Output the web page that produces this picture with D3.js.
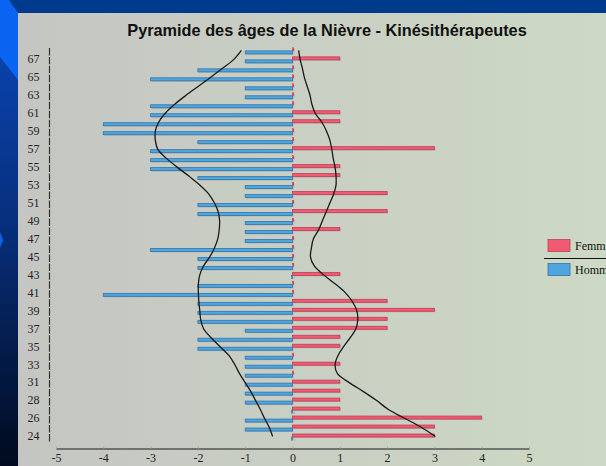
<!DOCTYPE html>
<html>
<head>
<meta charset="utf-8">
<script src="https://cdn.jsdelivr.net/npm/d3@7"></script>
<style>
  body { margin: 0; overflow: hidden; background: #003a8c; }
</style>
</head>
<body>
<svg width="606" height="466"></svg>
<script>
// tranches d'age, de bas en haut (30 absent du graphique d'origine)
const ages = [24, 25, 26, 27, 28, 29, 31, 32, 33, 34, 35, 36, 37, 38, 39, 40, 41, 42, 43, 44, 45, 46,
  47, 48, 49, 50, 51, 52, 53, 54, 55, 56, 57, 58, 59, 60, 61, 62, 63, 64, 65, 66, 67, 68]

const hommes = [0, -1, -1, 0, -1, -1, -1, -1, -1, -1, -2, -2, -1, -2, -2, -2, -4, -2, 0, -2, -2, -3,
  -1, -1, -1, -2, -2, -1, -1, -2, -3, -3, -3, -2, -4, -4, -3, -3, -1, -1, -3, -2, -1, -1]

const femmes = [3, 3, 4, 1, 1, 1, 1, 0, 1, 0, 1, 1, 2, 2, 3, 2, 0, 0, 1, 0, 0, 0,
  0, 1, 0, 2, 0, 2, 0, 1, 1, 0, 3, 0, 0, 1, 1, 0, 0, 0, 0, 0, 1, 0]

// courbes lissees
const courbeHommes = [-0.42, -0.49, -0.59, -0.68, -0.78, -0.88, -1.0, -1.12, -1.22, -1.34, -1.53, -1.72,
  -1.88, -1.94, -1.96, -1.98, -1.99, -1.99, -1.96, -1.88, -1.75, -1.65, -1.58, -1.55, -1.54, -1.57,
  -1.65, -1.77, -1.96, -2.19, -2.44, -2.67, -2.85, -2.9, -2.9, -2.83, -2.69, -2.49, -2.25, -1.99,
  -1.73, -1.48, -1.24, -1.08]

const courbeFemmes = [3.02, 2.73, 2.38, 2.03, 1.78, 1.5, 1.2, 0.95, 0.9, 0.96, 1.08, 1.22, 1.34, 1.38,
  1.36, 1.27, 1.12, 0.9, 0.66, 0.46, 0.38, 0.4, 0.44, 0.55, 0.63, 0.71, 0.79, 0.87, 0.92, 0.92, 0.9,
  0.86, 0.83, 0.79, 0.72, 0.62, 0.48, 0.41, 0.37, 0.31, 0.25, 0.21, 0.16, 0.13]

const xTicks = [-5, -4, -3, -2, -1, 0, 1, 2, 3, 4, 5]
const yLabels = ages.filter((d, i) => i % 2 === 0)
const series = ['Femme', 'Homme']
const couleurs = ['#f05a72', '#4fa5dd']
const bords = ['#c23c55', '#2f75ad']
const titre = 'Pyramide des âges de la Nièvre - Kinésithérapeutes'

let svg = d3.select('svg')
let defs = svg.append('defs')

let gFond = defs.append('linearGradient').attr('id', 'fond')
gFond.append('stop').attr('offset', '0%').attr('stop-color', '#c5c6c3')
gFond.append('stop').attr('offset', '100%').attr('stop-color', '#cdd9c4')

let gBande = defs.append('linearGradient').attr('id', 'bande')
    .attr('x1', 0).attr('y1', 0).attr('x2', 0).attr('y2', 1)
gBande.append('stop').attr('offset', '0%').attr('stop-color', '#0a47b8')
gBande.append('stop').attr('offset', '45%').attr('stop-color', '#07307e')
gBande.append('stop').attr('offset', '100%').attr('stop-color', '#010a1e')

// decor de la diapositive
svg.append('rect').attr('width', 606).attr('height', 466).attr('fill', '#003a8c')
svg.append('rect').attr('y', 13).attr('width', 18).attr('height', 453).attr('fill', 'url(#bande)')
svg.append('polygon').attr('points', '0,0 9,0 18,13 18,80 0,57').attr('fill', '#0b63f2')
svg.append('polygon').attr('points', '0,232 3,240 0,248').attr('fill', '#0b63f2')
svg.append('rect').attr('x', 18).attr('y', 13).attr('width', 588).attr('height', 453)
    .attr('fill', 'url(#fond)')

let x = d3.scaleLinear().domain([-5, 5]).range([56, 529])
let y = d3.scaleBand().domain(ages).range([441, 45.9])
let bw = y.bandwidth()
let cy = d => y(d) + bw / 2

// titre
let t = svg.append('text')
    .attr('x', 327).attr('y', 36)
    .attr('text-anchor', 'middle')
    .attr('font-family', 'Liberation Sans, Arial, sans-serif')
    .attr('font-weight', 'bold')
    .attr('font-size', 16)
    .attr('fill', '#111')
    .text(titre)
let w = t.node().getComputedTextLength()
t.attr('font-size', 16 * 400 / w)

// axe y
let axeY = svg.append('g')
    .attr('transform', 'translate(49,0)')
    .call(d3.axisLeft(y).tickValues(yLabels).tickSize(0).tickSizeOuter(0).tickPadding(9.5))
axeY.select('.domain')
    .attr('stroke', '#333')
    .attr('stroke-width', 1.2)
    .attr('stroke-dasharray', (bw - 1.5) + ',1.5')
axeY.selectAll('text')
    .attr('font-family', 'Liberation Serif, Times New Roman, serif')
    .attr('font-size', 12)
    .attr('fill', '#222')

// axe x
let axeX = svg.append('g')
    .attr('transform', 'translate(0,448.5)')
    .call(d3.axisBottom(x).tickValues(xTicks).tickFormat(d => String(d))
      .tickSize(-2).tickSizeOuter(0).tickPadding(5))
axeX.select('.domain').attr('stroke', '#555').attr('stroke-width', 1.6)
axeX.selectAll('.tick line').attr('stroke', '#aaa')
axeX.selectAll('text')
    .attr('font-family', 'Liberation Serif, Times New Roman, serif')
    .attr('font-size', 12)
    .attr('fill', '#222')

// barres
let donnees = ages.map((a, i) => ({ age: a, f: femmes[i], h: hommes[i] }))

let barres = svg.append('g')
barres.selectAll('rect.ombreH')
    .data(donnees)
    .enter().append('rect')
      .attr('x', d => x(d.h) + 1)
      .attr('y', d => cy(d.age) + 1.5)
      .attr('width', d => Math.max(1, x(0) - x(d.h)))
      .attr('height', 3)
      .attr('fill', '#000').attr('opacity', 0.12)
barres.selectAll('rect.ombreF')
    .data(donnees)
    .enter().append('rect')
      .attr('x', x(0) + 1)
      .attr('y', d => cy(d.age) - 1.5)
      .attr('width', d => Math.max(1, x(d.f) - x(0)))
      .attr('height', 3)
      .attr('fill', '#000').attr('opacity', 0.12)

barres.selectAll('rect.homme')
    .data(donnees)
    .enter().append('rect')
      .attr('class', 'homme')
      .attr('x', d => d.h < 0 ? x(d.h) : x(0) - 1)
      .attr('y', d => cy(d.age) + 0.5)
      .attr('width', d => Math.max(1, x(0) - x(d.h)))
      .attr('height', 3)
      .attr('fill', couleurs[1])
      .attr('stroke', bords[1])
      .attr('stroke-width', 0.8)

barres.selectAll('rect.femme')
    .data(donnees)
    .enter().append('rect')
      .attr('class', 'femme')
      .attr('x', x(0))
      .attr('y', d => cy(d.age) - 2.5)
      .attr('width', d => Math.max(1, x(d.f) - x(0)))
      .attr('height', 3)
      .attr('fill', couleurs[0])
      .attr('stroke', bords[0])
      .attr('stroke-width', 0.8)

// courbes
let ligne = d3.line()
    .x(d => x(d[1]))
    .y(d => cy(d[0]))
    .curve(d3.curveCatmullRom)

svg.append('path')
    .datum(ages.map((a, i) => [a, courbeHommes[i]]))
    .attr('d', ligne)
    .attr('fill', 'none')
    .attr('stroke', '#1a1a1a')
    .attr('stroke-width', 1.3)

svg.append('path')
    .datum(ages.map((a, i) => [a, courbeFemmes[i]]))
    .attr('d', ligne)
    .attr('fill', 'none')
    .attr('stroke', '#1a1a1a')
    .attr('stroke-width', 1.3)

// legende
let legende = svg.append('g').attr('transform', 'translate(548,239.5)')
legende.selectAll('rect')
    .data(series)
    .enter().append('rect')
      .attr('x', 0)
      .attr('y', (d, i) => i * 24)
      .attr('width', 22)
      .attr('height', 12)
      .attr('fill', (d, i) => couleurs[i])
      .attr('stroke', (d, i) => bords[i])
      .attr('stroke-width', 0.8)
legende.selectAll('text')
    .data(series)
    .enter().append('text')
      .attr('x', 27)
      .attr('y', (d, i) => i * 24 + 10.5)
      .attr('font-family', 'Liberation Serif, Times New Roman, serif')
      .attr('font-size', 12)
      .attr('fill', '#111')
      .text(d => d)
legende.append('line')
    .attr('x1', -4).attr('x2', 60)
    .attr('y1', 19).attr('y2', 19)
    .attr('stroke', '#111')
    .attr('stroke-width', 1)
</script>
</body>
</html>
